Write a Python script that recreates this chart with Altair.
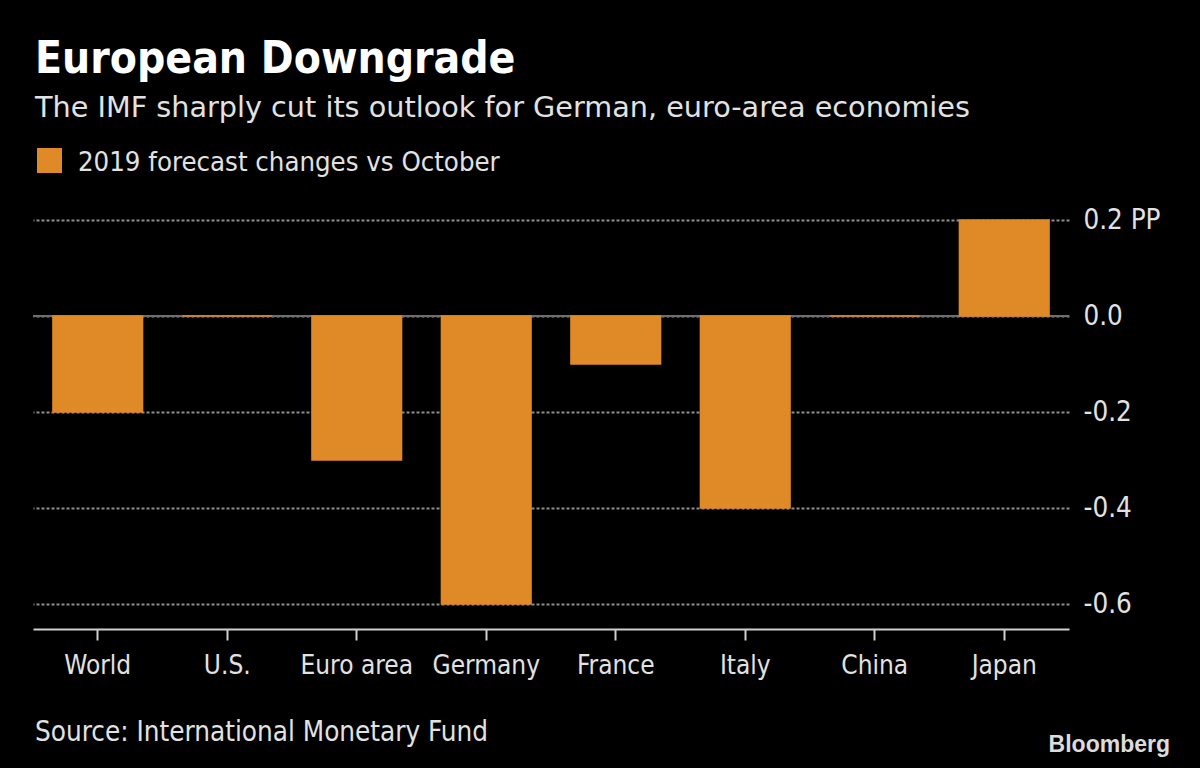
import altair as alt
import pandas as pd

# IMF 2019 growth forecast revisions vs October, percentage points
countries = ["World", "U.S.", "Euro area", "Germany", "France", "Italy", "China", "Japan"]
changes = [-0.2, 0.0, -0.3, -0.6, -0.1, -0.4, 0.0, 0.2]
y_ticks = [-0.6, -0.4, -0.2, 0.0, 0.2]

title_text = "European Downgrade"
subtitle_text = "The IMF sharply cut its outlook for German, euro-area economies"
legend_text = "2019 forecast changes vs October"
source_text = "Source: International Monetary Fund"
brand_text = "Bloomberg"

ORANGE = "#DF8A26"
FONT = "DejaVu Sans Condensed"
TEXT = "#E2E2E2"

df = pd.DataFrame({"country": countries, "change": changes})

W, H = 1036, 409
y_scale = alt.Scale(domain=[-0.652, 0.2], nice=False, zero=False)
x_scale = alt.Scale(domain=countries, paddingInner=0.308, paddingOuter=0.154)

y_axis = alt.Axis(
    orient="right",
    values=y_ticks,
    labelExpr="datum.value > 0.1 ? '0.2 PP' : replace(format(datum.value, '.1f'), '\u2212', '-')",
    labelFont=FONT,
    labelFontSize=27.5,
    labelColor=TEXT,
    labelPadding=14,
    ticks=False,
    domain=False,
    grid=True,
    gridColor="#8E8E8E",
    gridDash=[3, 2],
    gridWidth=2,
)

# Gridlines and right-hand labels come from this layer
grid = alt.Chart(alt.Data(values=[{"v": t} for t in y_ticks])).mark_point(opacity=0).encode(
    y=alt.Y("v:Q", scale=y_scale, title=None, axis=y_axis)
)

zero_line = alt.Chart(alt.Data(values=[{"z": 0}])).mark_rule(
    color="#6E6E6E", strokeWidth=2
).encode(y=alt.Y("z:Q", scale=y_scale, title=None))

bars = alt.Chart(df).mark_bar(color=ORANGE, stroke=ORANGE, strokeWidth=1.5).encode(
    x=alt.X(
        "country:N",
        sort=countries,
        scale=x_scale,
        title=None,
        axis=alt.Axis(
            labelAngle=0,
            labelFont=FONT,
            labelFontSize=26,
            labelColor=TEXT,
            labelPadding=12,
            tickColor="#CFCFCF",
            tickSize=11,
            tickWidth=2,
            domainColor="#CFCFCF",
            domainWidth=2,
        ),
    ),
    y=alt.Y("change:Q", scale=y_scale, title=None),
)


def label(text, x, y, size, color=TEXT, weight="normal", font=FONT, align="left"):
    return alt.Chart(alt.Data(values=[{}])).mark_text(
        text=text,
        font=font,
        fontSize=size,
        fontWeight=weight,
        color=color,
        align=align,
        baseline="alphabetic",
    ).encode(x=alt.value(x), y=alt.value(y))


legend_swatch = alt.Chart(alt.Data(values=[{}])).mark_rect(color=ORANGE).encode(
    x=alt.value(4), x2=alt.value(29), y=alt.value(-72), y2=alt.value(-47)
)

chart = alt.layer(
    grid,
    zero_line,
    bars,
    label(title_text, 2, -147, 44, color="#FFFFFF", weight="bold"),
    label(subtitle_text, 2, -103, 28.7, font="DejaVu Sans"),
    legend_swatch,
    label(legend_text, 45, -49, 27.3),
    label(source_text, 2, 521, 27.6),
    label(brand_text, 1137, 532, 23, color="#DCDCDC", weight="bold",
          font="Liberation Sans", align="right"),
).resolve_scale(y="shared").properties(
    width=W,
    height=H,
    background="#000000",
    padding={"left": 33, "top": 220, "right": 131, "bottom": 139},
    autosize=alt.AutoSizeParams(type="none"),
).configure_view(stroke=None)

chart.save("out.html", embed_options={"renderer": "svg", "actions": False})
